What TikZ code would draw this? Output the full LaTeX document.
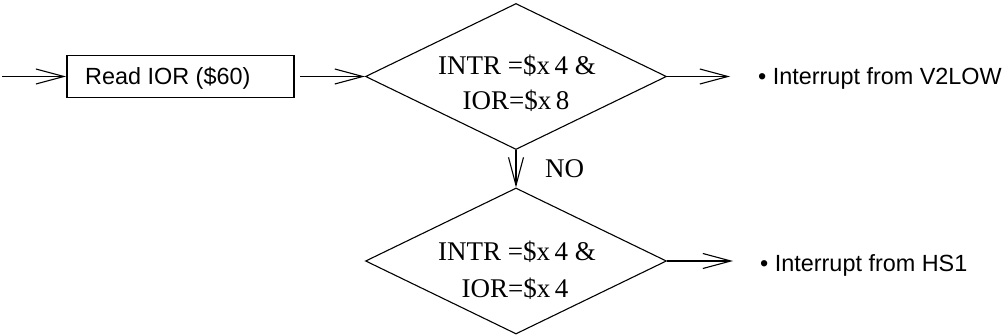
\documentclass[tikz,border=0pt]{standalone}
\usepackage{fontspec}
\setmainfont{Liberation Serif}
\newfontfamily\arialf{Liberation Sans}
\usetikzlibrary{shapes.geometric,arrows.meta}
\begin{document}
\begin{tikzpicture}[x=1pt,y=1pt,
  flowarrow/.style={line width=1.9pt, -{Straight Barb[length=28pt,width=15pt,line width=1.1pt]}},
  procbox/.style={draw, line width=1.9pt, minimum width=227pt, minimum height=42pt, inner sep=0pt},
  decision/.style={draw, diamond, line width=1.1pt, minimum width=301pt, minimum height=146pt, inner sep=0pt},
  sanstext/.style={inner sep=0pt, font=\arialf\fontsize{23.4}{28}\selectfont},
  seriftext/.style={inner sep=0pt, font=\fontsize{27}{32}\selectfont}]
\useasboundingbox (0,0) rectangle (1004,335);
% nodes
\coordinate (start) at (2,258.5);
\node[procbox] (rd) at (180.5,258.5) {};
\node[sanstext, anchor=base west] (rdt) at (85,250) {Read IOR (\$60)};
\node[decision] (d1) at (516,258.5) {};
\node[seriftext, anchor=base] (d1a) at (517,260) {INTR =\$x\,4 \&};
\node[seriftext, anchor=base] (d1b) at (516,225) {IOR=\$x\,8};
\node[decision] (d2) at (516,74) {};
\node[seriftext, anchor=base] (d2a) at (517,75) {INTR =\$x\,4 \&};
\node[seriftext, anchor=base] (d2b) at (515,38) {IOR=\$x\,4};
\node[seriftext, anchor=base west] (no) at (545,157) {NO};
\coordinate (o1) at (730,258.5);
\coordinate (o2) at (733,74);
\node[sanstext, anchor=base west] (t1) at (758,250) {\textbullet\ Interrupt from V2LOW};
\node[sanstext, anchor=base west] (t2) at (760,63.3) {\textbullet\ Interrupt from HS1};
% connectors
\draw[flowarrow] (start) -- (rd.west);
\draw[flowarrow, shorten <=5pt] (rd.east) -- (d1.west);
\draw[flowarrow] (d1.east) -- (o1);
\draw[flowarrow] (d1.south) -- (d2.north);
\draw[flowarrow] (d2.east) -- (o2);
\end{tikzpicture}
\end{document}
